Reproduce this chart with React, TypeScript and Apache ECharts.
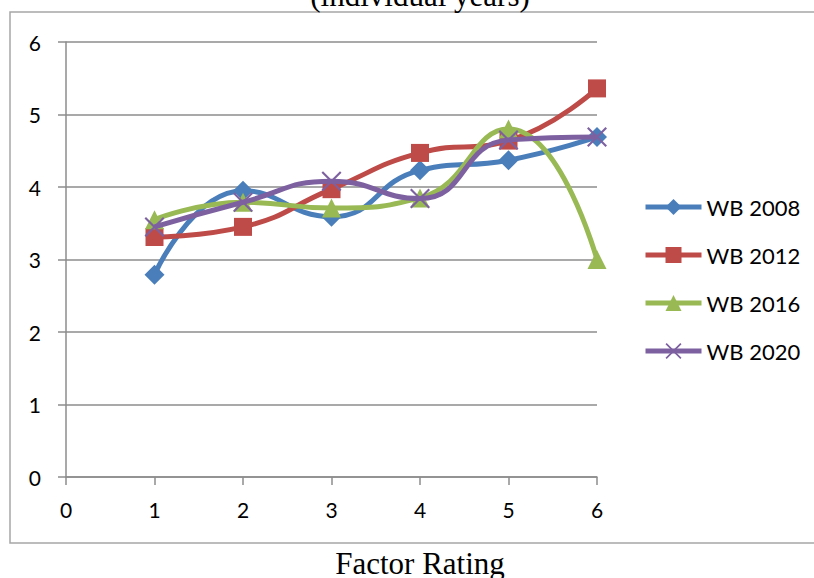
import React, { useEffect, useRef } from "react";
import * as echarts from "echarts";

const factorRatings = [1, 2, 3, 4, 5, 6];
const wb2008 = [2.79, 3.95, 3.59, 4.23, 4.37, 4.69];
const wb2012 = [3.31, 3.45, 3.97, 4.47, 4.64, 5.36];
const wb2016 = [3.55, 3.79, 3.71, 3.85, 4.8, 3.0];
const wb2020 = [3.45, 3.79, 4.08, 3.84, 4.65, 4.69];
const seriesNames = ["WB 2008", "WB 2012", "WB 2016", "WB 2020"];
const titleText = "(individual years)";
const xAxisTitle = "Factor Rating";

const X_PATH =
  "path://M0,1.5L1.5,0L20,18.5L18.5,20Z M18.5,0L20,1.5L1.5,20L0,18.5Z";

export default function App() {
  const ref = useRef<HTMLDivElement>(null);
  useEffect(() => {
    if (!ref.current) return;
    const chart = echarts.init(ref.current, null, { renderer: "svg" });
    const pair = (vals: number[]) => factorRatings.map((x, i) => [x, vals[i]]);
    const font = "Lato, 'Open Sans', sans-serif";
    const colors = ["#4A7EBB", "#BE4B48", "#98B954", "#7D60A0"];
    const symbols = ["diamond", "rect", "triangle", X_PATH];
    const sizes = [20, 18, 19, 20];
    const data = [wb2008, wb2012, wb2016, wb2020];
    chart.setOption({
      animation: false,
      color: colors,
      grid: { left: 66, right: 217, top: 42, bottom: 101, containLabel: false },
      xAxis: {
        type: "value",
        min: 0,
        max: 6,
        interval: 1,
        axisLine: { show: true, onZero: false, lineStyle: { color: "#8C8C8C", width: 1.5 } },
        axisTick: { show: true, inside: false, length: 8, lineStyle: { color: "#8C8C8C", width: 1.5 } },
        axisLabel: { color: "#000", fontFamily: font, fontSize: 21, margin: 22 },
        splitLine: { show: false },
      },
      yAxis: {
        type: "value",
        min: 0,
        max: 6,
        interval: 1,
        axisLine: { show: true, lineStyle: { color: "#8C8C8C", width: 1.5 } },
        axisTick: { show: true, inside: false, length: 8, lineStyle: { color: "#8C8C8C", width: 1.5 } },
        axisLabel: { color: "#000", fontFamily: font, fontSize: 21, margin: 25 },
        splitLine: { show: true, lineStyle: { color: "#8C8C8C", width: 1.5 } },
      },
      legend: {
        orient: "vertical",
        left: 643,
        top: 196,
        padding: 0,
        itemWidth: 56,
        itemHeight: 20,
        itemGap: 26,
        lineStyle: { width: 5 },
        textStyle: { color: "#000", fontFamily: font, fontSize: 22 },
        data: seriesNames,
      },
      series: seriesNames.map((name, i) => ({
        name,
        type: "line",
        smooth: 0.5,
        data: pair(data[i]),
        symbol: symbols[i],
        symbolSize: sizes[i],
        lineStyle: { width: 5, color: colors[i] },
        itemStyle: { color: colors[i], borderWidth: 0 },
        z: 2 + i,
      })),
      graphic: [
        {
          type: "rect",
          silent: true,
          z: -1,
          shape: { x: 10, y: 12, width: 830, height: 531 },
          style: { fill: "none", stroke: "#A6A6A6", lineWidth: 1.5 },
        },
        {
          type: "text",
          x: 420,
          y: 11,
          style: {
            text: titleText,
            fontFamily: "'Liberation Serif', 'Times New Roman', serif",
            fontSize: 31,
            fill: "#000",
            align: "center",
            verticalAlign: "bottom",
          },
        },
        {
          type: "text",
          x: 420,
          y: 548,
          style: {
            text: xAxisTitle,
            fontFamily: "'Liberation Serif', 'Times New Roman', serif",
            fontSize: 31,
            fill: "#000",
            align: "center",
            verticalAlign: "top",
          },
        },
      ],
    });
    return () => chart.dispose();
  }, []);
  return <div ref={ref} style={{ width: 814, height: 578, position: "absolute", left: 0, top: 0 }} />;
}
